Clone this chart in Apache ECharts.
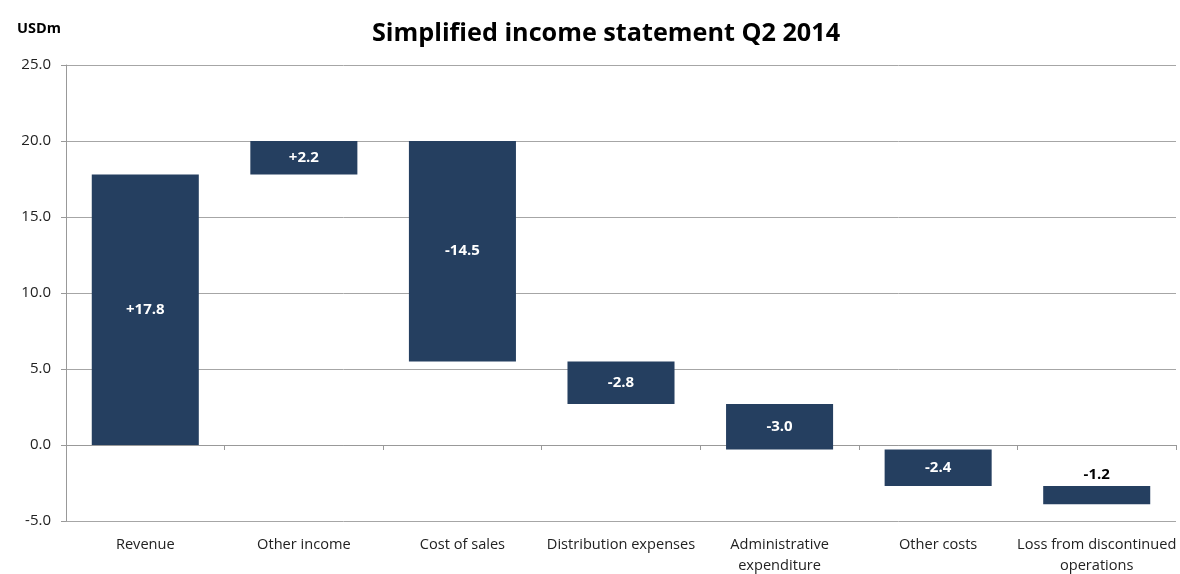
<!DOCTYPE html>
<html><head><meta charset="utf-8">
<script src="https://cdn.jsdelivr.net/npm/echarts@6/dist/echarts.min.js"></script>
<style>html,body{margin:0;padding:0;background:#fff}#c{width:1180px;height:574px}</style>
</head><body><div id="c"></div>
<script>
var categories = ['Revenue', 'Other income', 'Cost of sales', 'Distribution expenses', 'Administrative\nexpenditure', 'Other costs', 'Loss from discontinued\noperations'];
var deltas = [17.8, 2.2, -14.5, -2.8, -3.0, -2.4, -1.2];
var labels = ['+17.8', '+2.2', '-14.5', '-2.8', '-3.0', '-2.4', '-1.2'];
var yTicks = { min: -5, max: 25, interval: 5 };

var rows = [];
var run = 0;
for (var i = 0; i < deltas.length; i++) {
  var s = run; run = Math.round((run + deltas[i]) * 10) / 10;
  rows.push([i, s, run, i]);
}
var FONT = '"Open Sans", "Liberation Sans", sans-serif';
var chart = echarts.init(document.getElementById('c'));
chart.setOption({
  animation: false,
  title: [{
    text: 'Simplified income statement Q2 2014', left: 367, top: 16,
    textStyle: { fontFamily: FONT, fontSize: 25.2, fontWeight: 'bold', color: '#000' }
  }, {
    text: 'USDm', left: 12, top: 16,
    textStyle: { fontFamily: FONT, fontSize: 14.5, fontWeight: 'bold', color: '#000' }
  }],
  grid: { left: 66, right: 4, top: 65, bottom: 53, outerBoundsMode: 'none', containLabel: false },
  xAxis: [{
    type: 'category', data: categories, position: 'bottom',
    axisLine: { show: false, onZero: false }, axisTick: { show: false },
    axisLabel: { interval: 0, margin: 13, fontFamily: FONT, fontSize: 14.6, color: '#222', lineHeight: 21 }
  }, {
    type: 'category', data: categories, position: 'bottom',
    axisLine: { show: true, onZero: true, lineStyle: { color: '#999', width: 1 } },
    axisTick: { show: true, interval: 0, length: 5, lineStyle: { color: '#999' } },
    axisLabel: { show: false, interval: 0 }
  }],
  yAxis: {
    type: 'value', min: yTicks.min, max: yTicks.max, interval: yTicks.interval,
    axisLine: { show: true, lineStyle: { color: '#999' } },
    axisTick: { show: true, length: 5, lineStyle: { color: '#999' } },
    splitLine: { lineStyle: { color: '#a6a6a6', width: 1 } },
    axisLabel: { formatter: function (v) { return v.toFixed(1); }, margin: 15, fontFamily: FONT, fontSize: 15, color: '#222' }
  },
  series: [{
    type: 'custom', xAxisIndex: 0,
    data: rows,
    encode: { x: 0, y: [1, 2] },
    renderItem: function (params, api) {
      var idx = api.value(0);
      var a = api.coord([idx, api.value(1)]);
      var b = api.coord([idx, api.value(2)]);
      var w = api.size([1, 0])[0] * 0.675;
      var top = Math.min(a[1], b[1]), h = Math.abs(a[1] - b[1]);
      var k = api.value(3);
      var small = h < 22;
      return {
        type: 'group',
        children: [{
          type: 'rect',
          shape: { x: a[0] - w / 2, y: top, width: w, height: h },
          style: { fill: '#253f60' }
        }, {
          type: 'text',
          style: {
            text: labels[k], x: a[0], y: small ? top - 11 : top + h / 2,
            align: 'center', verticalAlign: 'middle',
            fill: small ? '#000' : '#fff',
            font: 'bold 15px ' + FONT
          }
        }]
      };
    }
  }]
});
</script></body></html>
